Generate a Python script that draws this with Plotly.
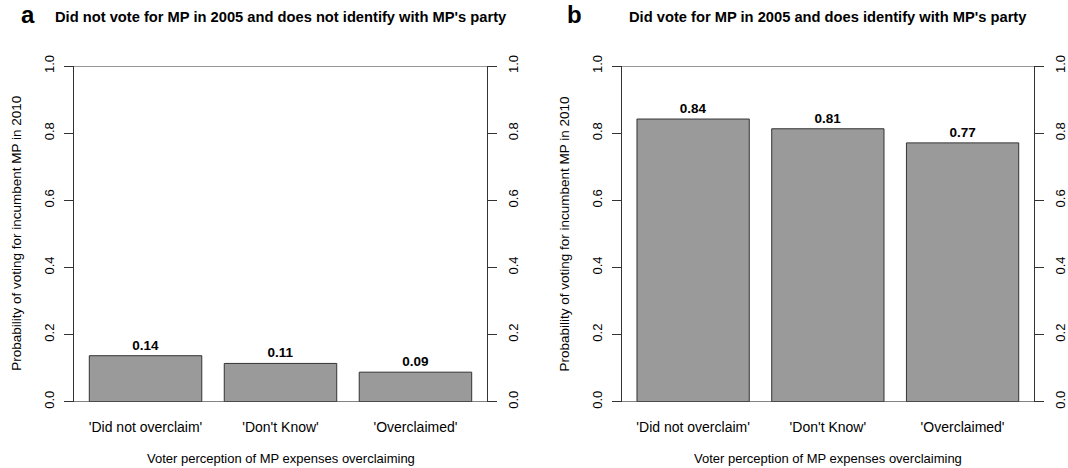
import plotly.graph_objects as go

categories = ["'Did not overclaim'", "'Don't Know'", "'Overclaimed'"]
positions = [0.7, 1.9, 3.1]
values_a = [0.137, 0.114, 0.088]
values_b = [0.842, 0.813, 0.771]
title_a = "Did not vote for MP in 2005 and does not identify with MP's party"
title_b = "Did vote for MP in 2005 and does identify with MP's party"
y_ticks = [0.0, 0.2, 0.4, 0.6, 0.8, 1.0]
y_ticktext = ["0.0", "0.2", "0.4", "0.6", "0.8", "1.0"]
x_title = "Voter perception of MP expenses overclaiming"
y_title = "Probability of voting for incumbent MP in 2010"

W, H = 1068, 468
FONT = "Liberation Sans, Arial, sans-serif"
LINE = "#333333"

# panel geometry in pixels
ax_a = (74, 487)
ax_b = (621.7, 1034)
y_top, y_bot = 66, 401.7

dom_a = [ax_a[0] / W, ax_a[1] / W]
dom_b = [ax_b[0] / W, ax_b[1] / W]
dom_y = [(H - y_bot) / H, (H - y_top) / H]

fig = go.Figure()
for vals, xa, ya in [(values_a, "x", "y"), (values_b, "x2", "y2")]:
    fig.add_trace(go.Bar(
        x=positions, y=vals, width=1.0, xaxis=xa, yaxis=ya,
        marker=dict(color="#9a9a9a", line=dict(color=LINE, width=1)),
        texttemplate="<b>%{y:.2f}</b>", textposition="outside",
        textfont=dict(family=FONT, size=13.5, color="black"),
        cliponaxis=False, showlegend=False, hoverinfo="skip",
    ))
# invisible traces for right-hand axes
fig.add_trace(go.Scatter(x=[positions[0]], y=[0], xaxis="x", yaxis="y3",
                         mode="markers", marker=dict(opacity=0), showlegend=False, hoverinfo="skip"))
fig.add_trace(go.Scatter(x=[positions[0]], y=[0], xaxis="x2", yaxis="y4",
                         mode="markers", marker=dict(opacity=0), showlegend=False, hoverinfo="skip"))

xcommon = dict(range=[0.064, 3.736], tickvals=positions, ticktext=categories,
               showline=False, showgrid=False, zeroline=False, ticks="",
               tickfont=dict(family=FONT, size=14, color="black"),
               ticklabelstandoff=15, automargin=False)
ycommon = dict(range=[0, 1], tickvals=y_ticks, ticktext=y_ticktext,
               showline=True, linecolor=LINE, linewidth=1, showgrid=False, zeroline=False,
               ticks="outside", ticklen=9, tickcolor=LINE, tickwidth=1, tickangle=-90,
               tickfont=dict(family=FONT, size=13, color="black"),
               ticklabelstandoff=5, domain=dom_y, automargin=False)

fig.update_layout(
    template="none",
    width=W, height=H, margin=dict(l=0, r=0, t=0, b=0, pad=0, autoexpand=False),
    paper_bgcolor="white", plot_bgcolor="white",
    font=dict(family=FONT, color="black"),
    xaxis=dict(domain=dom_a, anchor="y", **xcommon),
    xaxis2=dict(domain=dom_b, anchor="y2", **xcommon),
    yaxis=dict(anchor="x", side="left", **ycommon),
    yaxis2=dict(anchor="x2", side="left", **ycommon),
    yaxis3=dict(anchor="x", overlaying="y", side="right", **ycommon),
    yaxis4=dict(anchor="x2", overlaying="y2", side="right", **ycommon),
)

# horizontal reference lines at 0 and 1 extending to tick ends
for xd, yr, (l, r) in [("x domain", "y", ax_a), ("x2 domain", "y2", ax_b)]:
    ext = 9 / (r - l)
    for yv in [0, 1]:
        fig.add_shape(type="line", xref=xd, yref=yr, x0=-ext, x1=1 + ext, y0=yv, y1=yv,
                      line=dict(color=LINE, width=1))

ann = []
for xd, (l, r), title, letter, lx in [("x domain", ax_a, title_a, "a", 28),
                                       ("x2 domain", ax_b, title_b, "b", 574)]:
    ann.append(dict(xref=xd, yref="paper", x=0.5, y=(H - 17) / H, text="<b>" + title + "</b>",
                    showarrow=False, font=dict(family=FONT, size=14.7, color="black"),
                    xanchor="center", yanchor="middle"))
    ann.append(dict(xref=xd, yref="paper", x=0.5, y=(H - 458) / H, text=x_title,
                    showarrow=False, font=dict(family=FONT, size=13, color="black"),
                    xanchor="center", yanchor="middle"))
    ann.append(dict(xref="paper", yref="paper", x=lx / W, y=(H - 15) / H, text="<b>" + letter + "</b>",
                    showarrow=False, font=dict(family=FONT, size=24, color="black"),
                    xanchor="center", yanchor="middle"))
    ann.append(dict(xref="paper", yref="paper", x=(l - 57) / W, y=(H - (y_top + y_bot) / 2) / H,
                    text=y_title, textangle=-90, showarrow=False,
                    font=dict(family=FONT, size=13.5, color="black"),
                    xanchor="center", yanchor="middle"))
fig.update_layout(annotations=ann)

fig.write_html(
    "out.html",
    config={"displayModeBar": False},
    post_script=("document.body.style.margin='0';"
                 "document.documentElement.style.overflow='hidden';"
                 "document.body.style.overflow='hidden';"),
)
